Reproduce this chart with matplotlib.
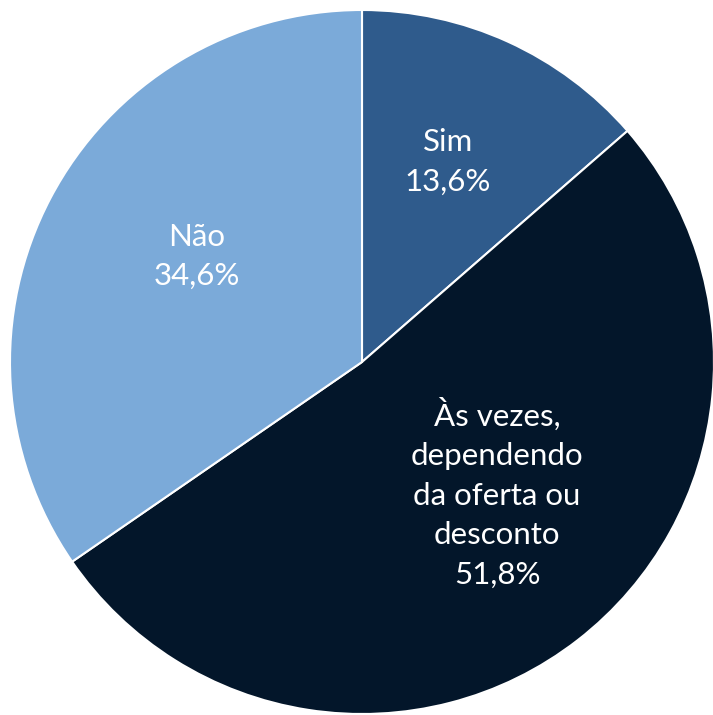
import matplotlib
matplotlib.use("Agg")
import matplotlib.pyplot as plt

categories = ["Sim", "Às vezes,\ndependendo\nda oferta ou\ndesconto", "Não"]
values = [13.6, 51.8, 34.6]
colors = ["#2F5B8C", "#03162A", "#7BAAD9"]
label_pos = [(0.244, 0.568), (0.384, -0.372), (-0.469, 0.30)]

fig = plt.figure(figsize=(7.13, 7.15), dpi=100)
ax = fig.add_axes([0, 0, 1, 1])
wedges, _ = ax.pie(values, colors=colors, startangle=90, counterclock=False,
                   radius=1.0, wedgeprops=dict(edgecolor="white", linewidth=1.5))
for cat, v, (x, y) in zip(categories, values, label_pos):
    txt = f"{cat}\n{v:.1f}%".replace(".", ",")
    ax.text(x, y, txt, ha="center", va="center", color="white",
            fontsize=22.5, family=["Lato", "DejaVu Sans"], linespacing=1.5)
ax.set_xlim(-362 / 352, (713 - 362) / 352)
ax.set_ylim(-(715 - 362) / 352, 362 / 352)
ax.set_aspect("auto")
ax.axis("off")
fig.savefig("out.png", dpi=100)
